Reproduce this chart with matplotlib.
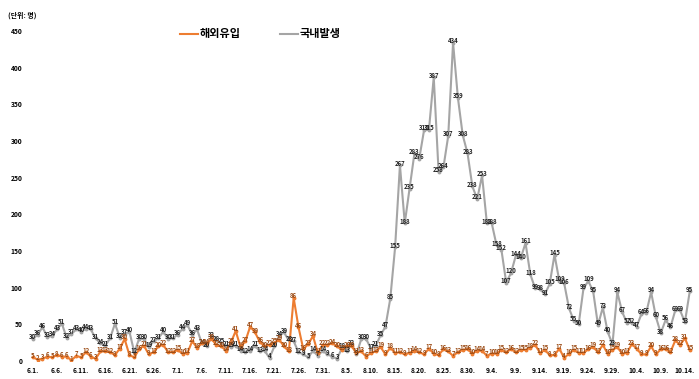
import matplotlib.pyplot as plt
import numpy as np

plt.rcParams['font.family'] = ['Noto Sans CJK KR', 'DejaVu Sans']

# 국내발생 (6.1. ~ 10.15.)
domestic = [30, 36, 46, 33, 34, 43, 51, 32, 37, 43,
            40, 44, 43, 31, 24, 21, 31, 51, 32, 37,
            40, 12, 30, 30, 19, 27, 31, 40, 30, 31,
            36, 44, 49, 36, 43, 24, 20, 33, 28, 25,
            21, 19, 21, 14, 12, 14, 21, 13, 14, 4,
            20, 34, 39, 28, 27, 12, 9, 5, 14, 7,
            14, 9, 6, 3, 18, 13, 23, 9, 30, 30,
            17, 21, 35, 47, 85, 155, 267, 188, 235, 283,
            276, 315, 315, 387, 258, 264, 307, 434, 359, 308,
            283, 238, 221, 253, 188, 188, 158, 152, 107, 120,
            144, 140, 161, 118, 99, 98, 91, 105, 145, 109,
            106, 72, 55, 50, 99, 109, 95, 49, 73, 40,
            23, 94, 67, 52, 52, 47, 64, 66, 94, 60,
            38, 56, 46, 69, 69, 53, 95]

# 해외유입
imported = [5, 2, 3, 6, 5, 8, 6, 6, 1, 7,
            5, 12, 6, 3, 13, 13, 12, 8, 17, 30,
            8, 5, 16, 21, 9, 12, 20, 22, 12, 12,
            15, 10, 11, 27, 18, 24, 24, 30, 22, 20,
            14, 25, 41, 19, 27, 47, 39, 26, 20, 22,
            25, 29, 20, 13, 86, 46, 16, 23, 34, 11,
            22, 22, 24, 20, 15, 20, 20, 11, 13, 6,
            11, 13, 19, 9, 18, 11, 12, 9, 11, 14,
            12, 9, 17, 10, 8, 16, 13, 7, 12, 15,
            16, 10, 14, 14, 7, 10, 10, 15, 12, 16,
            12, 15, 15, 18, 22, 11, 15, 8, 8, 17,
            4, 10, 15, 11, 11, 16, 19, 12, 22, 10,
            15, 19, 10, 11, 23, 17, 9, 9, 20, 9,
            16, 16, 12, 28, 22, 31, 15]

tick_labels = ['6.1.', '6.6.', '6.11.', '6.16.', '6.21.', '6.26.', '7.1.',
               '7.6.', '7.11.', '7.16.', '7.21.', '7.26.', '7.31.', '8.5.',
               '8.10.', '8.15.', '8.20.', '8.25.', '8.30.', '9.4.', '9.9.',
               '9.14.', '9.19.', '9.24.', '9.29.', '10.4.', '10.9.', '10.14.']

gray = '#a5a5a5'
orange = '#ed7d31'

fig = plt.figure(figsize=(6.99, 3.79), dpi=100)
ax = fig.add_axes([28 / 699, 18 / 379, 669 / 699, 330 / 379])

x = np.arange(len(domestic))
l2, = ax.plot(x, domestic, color=gray, lw=1.5, marker='o', ms=1.8, label='국내발생', zorder=2)
l1, = ax.plot(x, imported, color=orange, lw=1.5, marker='o', ms=1.8, label='해외유입', zorder=3)

for i, v in enumerate(domestic):
    ax.annotate(str(v), (i, v), xytext=(0, 1.5), textcoords='offset points',
                ha='center', va='center', fontsize=4.3, fontweight='bold',
                color='#222222', zorder=4)
for i, v in enumerate(imported):
    ax.annotate(str(v), (i, v), xytext=(0, 1.5), textcoords='offset points',
                ha='center', va='center', fontsize=4.3, fontweight='bold',
                color='#9a4a14', zorder=5)

ax.set_xlim(-1, 137.5)
ax.set_ylim(0, 450)
ax.set_xticks(np.arange(0, 136, 5))
ax.set_xticklabels(tick_labels, fontsize=4.8, fontweight='bold')
ax.set_yticks(np.arange(0, 451, 50))
ax.set_yticklabels([str(t) for t in range(0, 451, 50)], fontsize=4.8, fontweight='bold')
ax.tick_params(length=0, pad=4)
for s in ax.spines.values():
    s.set_visible(False)

fig.text(8 / 699, 1 - 15 / 379, '(단위: 명)', fontsize=5, fontweight='bold', va='center')

leg = fig.legend(handles=[l1, l2], loc='center left', bbox_to_anchor=(170 / 699, 1 - 34 / 379),
                 ncol=2, frameon=False, fontsize=8, handlelength=1.6, handletextpad=0.2,
                 columnspacing=3.5)
for t in leg.get_texts():
    t.set_fontweight('bold')
for h in leg.legend_handles:
    h.set_marker('')

fig.savefig('out.png', dpi=100)
